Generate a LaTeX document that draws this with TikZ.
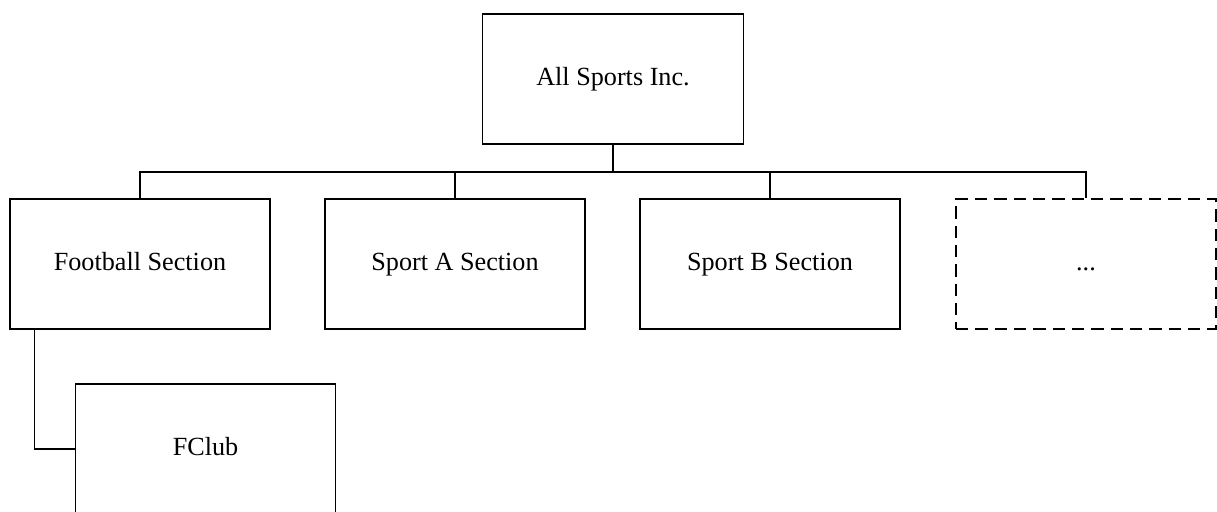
\documentclass[tikz,border=0pt]{standalone}
\usepackage{fontspec}
\setmainfont{Liberation Serif}
\usepackage{tikz}
\usetikzlibrary{positioning}

\begin{document}
\begin{tikzpicture}[
  unit/.style={draw, minimum width=5.2cm, minimum height=2.6cm, line width=0.85pt, font=\fontsize{14.9}{18}\selectfont, text height=0.7em, text depth=0pt, align=center},
  ghost/.style={unit, dash pattern=on 7pt off 4pt},
  link/.style={line width=0.85pt}
]
\clip (0,0) rectangle (24.34,-10.22);

% --- Top: company ---
\node[unit, minimum width=5.22cm] (top) at (12.26,-1.58) {All Sports Inc.};

% --- Sections ---
\node[unit] (football) at (2.80,-5.28) {Football Section};
\node[unit] (sporta)   at (9.10,-5.28) {Sport A Section};
\node[unit] (sportb)   at (15.40,-5.28) {Sport B Section};
\node[ghost] (more)    at (21.72,-5.28) {...};

% --- Club ---
\node[unit] (fclub) at (4.11,-8.98) {FClub};

% --- Connectors ---
\coordinate (bus) at (12.26,-3.44);
\draw[link] (top.south) -- (bus);
\draw[link] (football.north) |- (bus);
\draw[link] (sporta.north) |- (bus);
\draw[link] (sportb.north) |- (bus);
\draw[link] (more.north) |- (bus);
\draw[link] ([xshift=0.5cm]football.south west) |- (fclub.west);

\end{tikzpicture}
\end{document}
